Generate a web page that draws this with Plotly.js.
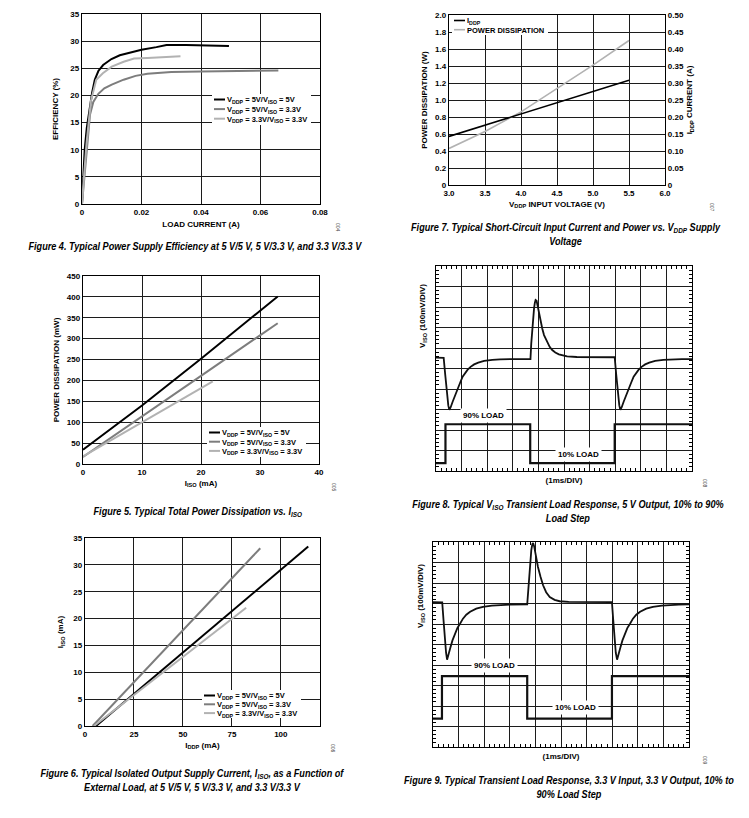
<!DOCTYPE html>
<html><head><meta charset="utf-8">
<script src="https://cdn.plot.ly/plotly-3.0.1.min.js"></script>
<style>html,body{margin:0;padding:0;background:#fff}#chart{width:749px;height:818px}</style>
</head><body><div id="chart"></div>
<script>
// ---------- Figure 4: efficiency vs load current ----------
const eff55X = [0, 0.0005, 0.0009, 0.0016, 0.0024, 0.0034, 0.0043, 0.0055, 0.0071, 0.0099, 0.0127, 0.016, 0.02, 0.025, 0.0284, 0.035, 0.042, 0.0494];
const eff55Y = [0, 5, 10, 14, 17.3, 20.5, 22.9, 24.5, 25.6, 26.7, 27.4, 27.9, 28.4, 28.9, 29.3, 29.3, 29.2, 29.1];
const eff533X = [0, 0.0008, 0.0017, 0.0027, 0.0038, 0.0055, 0.0075, 0.01, 0.014, 0.018, 0.022, 0.03, 0.04, 0.05, 0.066];
const eff533Y = [0, 5, 11, 16.5, 18.8, 20.3, 21.3, 22.0, 22.9, 23.6, 24.0, 24.3, 24.4, 24.5, 24.6];
const eff3333X = [0, 0.0007, 0.0015, 0.003, 0.0048, 0.007, 0.01, 0.014, 0.0175, 0.022, 0.027, 0.0331];
const eff3333Y = [0, 5, 11, 19, 22.9, 24.1, 25.3, 26.2, 26.8, 26.9, 27.0, 27.2];
const effXTicks = [0, 0.02, 0.04, 0.06, 0.08];
const effXText = ['0', '0.02', '0.04', '0.06', '0.08'];
const effYTicks = [0, 5, 10, 15, 20, 25, 30, 35];

// ---------- Figure 7: short-circuit current & power vs VDDP ----------
const scV = [3.0, 3.5, 4.0, 4.5, 5.0, 5.5];
const scIddp = [0.143, 0.176, 0.210, 0.243, 0.276, 0.308];
const scPower = [0.43, 0.63, 0.86, 1.13, 1.41, 1.70];
const scXTicks = [3.0, 3.5, 4.0, 4.5, 5.0, 5.5, 6.0];
const scXText = ['3.0', '3.5', '4.0', '4.5', '5.0', '5.5', '6.0'];
const scPTicks = [0, 0.2, 0.4, 0.6, 0.8, 1.0, 1.2, 1.4, 1.6, 1.8, 2.0];
const scPText = ['0', '0.2', '0.4', '0.6', '0.8', '1.0', '1.2', '1.4', '1.6', '1.8', '2.0'];
const scITicks = [0, 0.05, 0.10, 0.15, 0.20, 0.25, 0.30, 0.35, 0.40, 0.45, 0.50];
const scIText = ['0', '0.05', '0.10', '0.15', '0.20', '0.25', '0.30', '0.35', '0.40', '0.45', '0.50'];

// ---------- Figure 5: power dissipation vs ISO ----------
const pd55X = [0, 10, 20, 30, 33];
const pd55Y = [34, 140, 252, 365, 401];
const pd533X = [0, 10, 20, 30, 33];
const pd533Y = [17, 115, 211, 308, 337];
const pd3333X = [0, 10, 20, 22];
const pd3333Y = [18, 100, 182, 198];
const pdXTicks = [0, 10, 20, 30, 40];
const pdYTicks = [0, 50, 100, 150, 200, 250, 300, 350, 400, 450];

// ---------- Figure 6: IISO vs IDDP ----------
const iso55X = [5.6, 25, 50, 75, 100, 114];
const iso55Y = [0, 6.0, 13.7, 21.4, 29.1, 33.4];
const iso533X = [3.9, 25, 50, 75, 89.5];
const iso533Y = [0, 8.2, 17.8, 27.5, 33.1];
const iso3333X = [4.6, 25, 50, 75, 82.3];
const iso3333Y = [0, 5.8, 12.9, 20.0, 22.0];
const isoXTicks = [0, 25, 50, 75, 100];
const isoYTicks = [0, 5, 10, 15, 20, 25, 30, 35];

// ---------- Figure 8: transient, 5 V output (screen divisions) ----------
const f8T = [0, 0.30, 0.36, 0.42, 0.48, 0.52, 0.57, 0.65, 0.75, 0.84, 0.95, 1.04, 1.15, 1.23, 1.35, 1.49, 1.65, 1.88, 2.2, 2.5, 3.0, 3.69, 3.72, 3.76, 3.80, 3.83, 3.86, 3.89, 3.93, 3.96, 4.02, 4.09, 4.15, 4.22, 4.28, 4.34, 4.44, 4.54, 4.66, 4.8, 4.95, 5.12, 5.5, 6.0, 6.98, 7.04, 7.10, 7.16, 7.20, 7.25, 7.33, 7.43, 7.52, 7.63, 7.72, 7.83, 7.91, 8.03, 8.17, 8.33, 8.56, 8.88, 9.18, 9.6, 10];
const f8Viso = [5.53, 5.52, 4.7, 3.9, 3.2, 2.98, 3.1, 3.38, 3.72, 4.03, 4.33, 4.6, 4.8, 4.93, 5.08, 5.2, 5.29, 5.37, 5.42, 5.45, 5.46, 5.46, 6.2, 6.96, 7.5, 7.93, 8.2, 8.34, 8.3, 8.1, 7.7, 7.28, 6.95, 6.63, 6.45, 6.28, 6.06, 5.9, 5.78, 5.69, 5.63, 5.59, 5.56, 5.55, 5.55, 4.7, 3.9, 3.2, 2.98, 3.1, 3.38, 3.72, 4.03, 4.33, 4.6, 4.8, 4.93, 5.08, 5.2, 5.29, 5.37, 5.42, 5.45, 5.46, 5.46];
const f8LoadT = [0, 0.37, 0.37, 3.68, 3.68, 6.98, 6.98, 10];
const f8Load = [0.38, 0.38, 2.28, 2.28, 0.38, 0.38, 2.28, 2.28];

// ---------- Figure 9: transient, 3.3 V in / 3.3 V out (screen divisions) ----------
const f9T = [0, 0.36, 0.41, 0.46, 0.51, 0.55, 0.6, 0.68, 0.76, 0.85, 0.95, 1.05, 1.17, 1.3, 1.45, 1.69, 1.95, 2.3, 2.6, 3.0, 3.68, 3.72, 3.76, 3.80, 3.84, 3.88, 3.91, 3.95, 4.0, 4.05, 4.1, 4.2, 4.3, 4.42, 4.56, 4.75, 4.95, 5.3, 6.0, 6.99, 7.04, 7.09, 7.14, 7.19, 7.24, 7.32, 7.40, 7.49, 7.59, 7.69, 7.81, 7.94, 8.09, 8.33, 8.59, 8.94, 9.24, 9.6, 10];
const f9Viso = [7.07, 7.05, 6.2, 5.3, 4.6, 4.26, 4.45, 4.85, 5.2, 5.53, 5.8, 6.0, 6.26, 6.45, 6.6, 6.75, 6.84, 6.9, 6.93, 6.95, 6.96, 7.6, 8.4, 9.1, 9.6, 9.9, 9.95, 9.8, 9.45, 9.1, 8.78, 8.3, 7.89, 7.55, 7.32, 7.18, 7.11, 7.08, 7.07, 7.07, 6.2, 5.3, 4.6, 4.26, 4.45, 4.85, 5.2, 5.53, 5.8, 6.0, 6.26, 6.45, 6.6, 6.75, 6.84, 6.9, 6.93, 6.95, 6.96];
const f9LoadT = [0, 0.35, 0.35, 3.68, 3.68, 6.99, 6.99, 10];
const f9Load = [1.38, 1.38, 3.46, 3.46, 1.38, 1.38, 3.46, 3.46];

const legendNames = [
  'V<sub>DDP</sub> = 5V/V<sub>ISO</sub> = 5V',
  'V<sub>DDP</sub> = 5V/V<sub>ISO</sub> = 3.3V',
  'V<sub>DDP</sub> = 3.3V/V<sub>ISO</sub> = 3.3V'
];

// ---------- layout helpers ----------
const W = 749, H = 818;
const FAM = '"Liberation Sans", Arial, Helvetica, sans-serif';
const C_BLACK = '#000000', C_MID = '#7d7d7d', C_LIGHT = '#b2b2b2';
const tickFont = {family: FAM, size: 8, color: '#000', weight: 'bold'};
const titleFont = {family: FAM, size: 8, color: '#000', weight: 'bold'};
const px = (a, b) => [a / W, b / W];
const py = (top, bottom) => [1 - bottom / H, 1 - top / H];
const mid = d => (d[0] + d[1]) / 2;

function axis(domain, range, tickvals, ticktext, title, standoff, extra) {
  return Object.assign({
    domain: domain, range: range, tickmode: 'array', tickvals: tickvals,
    ticktext: ticktext || tickvals.map(String), showgrid: true, gridcolor: '#1c1c1c', gridwidth: 1,
    showline: true, linecolor: '#000', linewidth: 1.2, mirror: true, zeroline: false, ticks: '',
    tickfont: tickFont, fixedrange: true,
    title: {text: title, font: titleFont, standoff: standoff}
  }, extra || {});
}
function scopeAxis(domain, extra) {
  return Object.assign({
    domain: domain, range: [0, 10], tickmode: 'linear', tick0: 0, dtick: 1,
    showgrid: true, gridcolor: '#1c1c1c', gridwidth: 1, showticklabels: false, ticks: '',
    showline: true, linecolor: '#000', linewidth: 1.2, mirror: 'ticks', zeroline: false, fixedrange: true,
    minor: {dtick: 0.2, tick0: 0, ticks: 'inside', ticklen: 3, tickcolor: '#000', tickwidth: 1, showgrid: false}
  }, extra || {});
}
// centre graticule ticks of the oscilloscope screens
function centreAxis(over, position, tickside) {
  return {overlaying: over, anchor: 'free', position: position, range: [0, 10], tickmode: 'linear',
    tick0: 0, dtick: 0.2, ticks: tickside, ticklen: 2, tickwidth: 1, tickcolor: '#000',
    showgrid: false, showline: false, zeroline: false, showticklabels: false, fixedrange: true};
}
function line(x, y, color, name, xa, ya, legend, width) {
  return {type: 'scatter', mode: 'lines', x: x, y: y, name: name, xaxis: xa, yaxis: ya,
    legend: legend || 'legend', showlegend: !!legend, line: {color: color, width: width || 2}, hoverinfo: 'skip'};
}

const traces = [
  line(eff55X, eff55Y, C_BLACK, legendNames[0], 'x', 'y', 'legend'),
  line(eff533X, eff533Y, C_MID, legendNames[1], 'x', 'y', 'legend'),
  line(eff3333X, eff3333Y, C_LIGHT, legendNames[2], 'x', 'y', 'legend'),

  line(scV, scIddp, C_BLACK, 'I<sub>DDP</sub>', 'x2', 'y3', 'legend2', 1.6),
  line(scV, scPower, C_LIGHT, 'POWER DISSIPATION', 'x2', 'y2', 'legend2', 1.6),

  line(pd55X, pd55Y, C_BLACK, legendNames[0], 'x3', 'y4', 'legend3'),
  line(pd533X, pd533Y, C_MID, legendNames[1], 'x3', 'y4', 'legend3'),
  line(pd3333X, pd3333Y, C_LIGHT, legendNames[2], 'x3', 'y4', 'legend3'),

  line(f8T, f8Viso, '#111', 'V<sub>ISO</sub>', 'x4', 'y5', null, 1.8),
  line(f8LoadT, f8Load, '#111', 'Load', 'x4', 'y5', null, 2.2),

  line(iso55X, iso55Y, C_BLACK, legendNames[0], 'x5', 'y6', 'legend4'),
  line(iso533X, iso533Y, C_MID, legendNames[1], 'x5', 'y6', 'legend4'),
  line(iso3333X, iso3333Y, C_LIGHT, legendNames[2], 'x5', 'y6', 'legend4'),

  line(f9T, f9Viso, '#111', 'V<sub>ISO</sub>', 'x6', 'y7', null, 1.8),
  line(f9LoadT, f9Load, '#111', 'Load', 'x6', 'y7', null, 2.2)
];

const legFont = {family: FAM, size: 7.5, color: '#000', weight: 'bold'};
function leg(x, y) {
  return {x: x / W, y: 1 - y / H, xanchor: 'left', yanchor: 'top', bgcolor: '#fff',
    borderwidth: 0, font: legFont, itemwidth: 30, tracegroupgap: 0, itemclick: false, itemdoubleclick: false};
}
// target boxes (left, top, row pitch) of the compact legends
const legendBoxes = {legend: [212, 94, 9.6], legend2: [452, 15, 9.2], legend3: [207, 427, 9.2], legend4: [202, 690, 8.8]};

function note(x, y, text, opts) {
  return Object.assign({xref: 'paper', yref: 'paper', x: x / W, y: 1 - y / H, text: text, showarrow: false,
    xanchor: 'center', yanchor: 'middle', font: {family: FAM, size: 8, color: '#000', weight: 'bold'}}, opts || {});
}
const capFont = {family: FAM, size: 11, color: '#000', weight: 'bold', style: 'italic'};
function caption(x, y, text) { return note(x, y, text, {font: capFont, align: 'center'}); }
function code(x, y, text) { return note(x, y, text, {textangle: 90, font: {family: FAM, size: 5, color: '#444'}}); }
function scopeLabel(xa, ya, x, y, text) {
  return {xref: xa, yref: ya, x: x, y: y, text: text, showarrow: false, xanchor: 'center', yanchor: 'middle',
    bgcolor: '#fff', borderpad: 2, font: {family: FAM, size: 8, color: '#000', weight: 'bold'}};
}

const d8x = px(436, 692), d8y = py(266, 471);
const d9x = px(433, 689), d9y = py(542, 747);

const layout = {
  width: W, height: H, margin: {l: 0, r: 0, t: 0, b: 0}, paper_bgcolor: '#fff', plot_bgcolor: '#fff',
  showlegend: true, hovermode: false,
  // Fig 4
  xaxis: axis(px(82, 320), [0, 0.08], effXTicks, effXText, 'LOAD CURRENT (A)', 5, {anchor: 'y'}),
  yaxis: axis(py(14, 204), [0, 35], effYTicks, null, 'EFFICIENCY (%)', 10, {anchor: 'x'}),
  // Fig 7
  xaxis2: axis(px(449, 665), [3, 6], scXTicks, scXText, 'V<sub>DDP</sub> INPUT VOLTAGE (V)', 4, {anchor: 'y2'}),
  yaxis2: axis(py(15, 185), [0, 2], scPTicks, scPText, 'POWER DISSIPATION (W)', 6, {anchor: 'x2'}),
  yaxis3: axis(py(15, 185), [0, 0.5], scITicks, scIText, 'I<sub>DDP</sub> CURRENT (A)', 3,
    {anchor: 'x2', overlaying: 'y2', side: 'right', showgrid: false, mirror: false}),
  // Fig 5
  xaxis3: axis(px(83, 319), [0, 40], pdXTicks, null, 'I<sub>ISO</sub> (mA)', 4, {anchor: 'y4'}),
  yaxis4: axis(py(276, 464), [0, 450], pdYTicks, null, 'POWER DISSIPATION (mW)', 6, {anchor: 'x3'}),
  // Fig 8
  xaxis4: scopeAxis(d8x, {anchor: 'y5', title: {text: '(1ms/DIV)', font: titleFont, standoff: 6}}),
  yaxis5: scopeAxis(d8y, {anchor: 'x4'}),
  xaxis7: centreAxis('x4', mid(d8y), 'outside'),
  xaxis8: centreAxis('x4', mid(d8y), 'inside'),
  yaxis8: centreAxis('y5', mid(d8x), 'outside'),
  yaxis9: centreAxis('y5', mid(d8x), 'inside'),
  // Fig 6
  xaxis5: axis(px(85, 320), [0, 120], isoXTicks, null, 'I<sub>DDP</sub> (mA)', 4, {anchor: 'y6'}),
  yaxis6: axis(py(538, 726), [0, 35], isoYTicks, null, 'I<sub>ISO</sub> (mA)', 8, {anchor: 'x5'}),
  // Fig 9
  xaxis6: scopeAxis(d9x, {anchor: 'y7', title: {text: '(1ms/DIV)', font: titleFont, standoff: 6}}),
  yaxis7: scopeAxis(d9y, {anchor: 'x6'}),
  xaxis9: centreAxis('x6', mid(d9y), 'outside'),
  xaxis10: centreAxis('x6', mid(d9y), 'inside'),
  yaxis10: centreAxis('y7', mid(d9x), 'outside'),
  yaxis11: centreAxis('y7', mid(d9x), 'inside'),

  legend: leg(212, 94),
  legend2: leg(452, 15),
  legend3: leg(207, 427),
  legend4: leg(202, 690),

  annotations: [
    caption(196, 246, 'Figure 4. Typical Power Supply Efficiency at 5 V/5 V, 5 V/3.3 V, and 3.3 V/3.3 V'),
    caption(566, 234, 'Figure 7. Typical Short-Circuit Input Current and Power vs. V<sub>DDP</sub> Supply<br>Voltage'),
    caption(197, 512, 'Figure 5. Typical Total Power Dissipation vs. I<sub>ISO</sub>'),
    caption(568, 511, 'Figure 8. Typical V<sub>ISO</sub> Transient Load Response, 5 V Output, 10% to 90%<br>Load Step'),
    caption(192, 780, 'Figure 6. Typical Isolated Output Supply Current, I<sub>ISO</sub>, as a Function of<br>External Load, at 5 V/5 V, 5 V/3.3 V, and 3.3 V/3.3 V'),
    caption(569, 787, 'Figure 9. Typical Transient Load Response, 3.3 V Input, 3.3 V Output, 10% to<br>90% Load Step'),
    note(423, 316, 'V<sub>ISO</sub> (100mV/DIV)', {textangle: -90}),
    note(421, 596, 'V<sub>ISO</sub> (100mV/DIV)', {textangle: -90}),
    scopeLabel('x4', 'y5', 1.85, 2.72, '90% LOAD'),
    scopeLabel('x4', 'y5', 5.55, 0.82, '10% LOAD'),
    scopeLabel('x6', 'y7', 2.42, 3.97, '90% LOAD'),
    scopeLabel('x6', 'y7', 5.55, 1.95, '10% LOAD'),
    code(338, 227, '004'),
    code(712, 207, '007'),
    code(334, 487, '005'),
    code(705, 483, '008'),
    code(333, 748, '006'),
    code(705, 760, '009')
  ]
};
const NCAPTIONS = 6, CAPTION_SQUEEZE = 0.83;

// Datasheet-style compact legends (short line sample, tight row pitch) and condensed caption type.
function finish(gd) {
  const groups = Array.from(gd.querySelectorAll('.infolayer > g'));
  Object.keys(legendBoxes).forEach(id => {
    const g = groups.find(el => (el.getAttribute('class') || '').split(/\s+/).indexOf(id) >= 0);
    if (!g) return;
    const box = legendBoxes[id], pitch = box[2];
    const items = Array.from(g.querySelectorAll('g.traces'));
    let maxW = 0;
    items.forEach((it, i) => {
      it.setAttribute('transform', 'translate(0,' + (5.5 + i * pitch) + ')');
      it.querySelectorAll('path.js-line').forEach(p => p.setAttribute('d', 'M2,0h11'));
      it.querySelectorAll('text').forEach(t => {
        t.setAttribute('x', 15);
        t.setAttribute('text-anchor', 'start');
        try { maxW = Math.max(maxW, t.getComputedTextLength()); } catch (e) { maxW = Math.max(maxW, 100); }
      });
      it.querySelectorAll('rect.legendtoggle').forEach(r => r.remove());
    });
    g.querySelectorAll('rect.bg').forEach(bg => {
      bg.setAttribute('x', 0);
      bg.setAttribute('y', 0);
      bg.setAttribute('width', maxW + 19);
      bg.setAttribute('height', items.length * pitch + 2);
    });
    g.setAttribute('transform', 'translate(' + box[0] + ',' + box[1] + ')');
  });
  for (let i = 0; i < NCAPTIONS; i++) {
    const t = gd.querySelector('.annotation[data-index="' + i + '"] text.annotation-text');
    if (t) {
      t.style.transformBox = 'fill-box';
      t.style.transformOrigin = '50% 50%';
      t.style.transform = 'scaleX(' + CAPTION_SQUEEZE + ')';
    }
  }
}

Plotly.newPlot('chart', traces, layout, {staticPlot: true, displayModeBar: false}).then(gd => {
  finish(gd);
  gd.on('plotly_afterplot', () => finish(gd));
  setTimeout(() => finish(gd), 30);
  setTimeout(() => finish(gd), 250);
});
</script>
</body></html>
